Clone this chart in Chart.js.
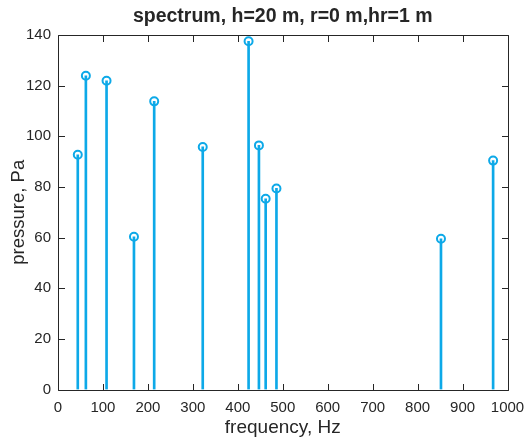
<!DOCTYPE html>
<html>
<head>
<meta charset="utf-8">
<script src="https://cdn.jsdelivr.net/npm/chart.js@4/dist/chart.umd.min.js"></script>
<style>
html,body{margin:0;padding:0;background:#fff;}
#wrap{width:526px;height:439px;position:relative;}
</style>
</head>
<body>
<div id="wrap"><canvas id="c" width="526" height="439"></canvas></div>
<script>
const titleText = 'spectrum, h=20 m, r=0 m,hr=1 m';
const xLabel = 'frequency, Hz';
const yLabel = 'pressure, Pa';
const frequencies = [44, 62, 108, 169, 214, 322, 424, 447, 462, 486, 852, 968];
const pressures = [92.7, 123.9, 121.9, 60.3, 113.8, 95.8, 137.5, 96.4, 75.3, 79.4, 59.5, 90.4];
const xTicks = [0, 100, 200, 300, 400, 500, 600, 700, 800, 900, 1000];
const yTicks = [0, 20, 40, 60, 80, 100, 120, 140];

const stemColor = '#0DA9E8';
const axisColor = '#262626';
const FONT = '"Liberation Sans", Arial, Helvetica, sans-serif';

const points = frequencies.map((f, i) => ({x: f, y: pressures[i]}));

const boxTicks = {
  id: 'boxTicks',
  afterDraw(chart) {
    const {ctx, chartArea: a, scales} = chart;
    const L = Math.round(a.left) + 0.5, R = Math.round(a.right) + 0.5;
    const T = Math.round(a.top) + 0.5, B = Math.round(a.bottom) + 0.5;
    const len = 6.5;
    ctx.save();
    ctx.strokeStyle = axisColor;
    ctx.lineWidth = 1;
    ctx.beginPath();
    ctx.rect(L, T, R - L, B - T);
    scales.x.ticks.forEach(t => {
      const px = Math.round(scales.x.getPixelForValue(t.value)) + 0.5;
      ctx.moveTo(px, B); ctx.lineTo(px, B - len);
      ctx.moveTo(px, T); ctx.lineTo(px, T + len);
    });
    scales.y.ticks.forEach(t => {
      const py = Math.round(scales.y.getPixelForValue(t.value)) + 0.5;
      ctx.moveTo(L, py); ctx.lineTo(L + len, py);
      ctx.moveTo(R, py); ctx.lineTo(R - len, py);
    });
    ctx.stroke();
    ctx.restore();
  }
};

new Chart(document.getElementById('c'), {
  type: 'bar',
  data: {
    datasets: [
      {
        type: 'bar',
        data: points,
        backgroundColor: stemColor,
        borderWidth: 0,
        barThickness: 2,
        order: 2
      },
      {
        type: 'scatter',
        data: points,
        showLine: false,
        pointStyle: 'circle',
        pointRadius: 4,
        pointHoverRadius: 4,
        pointBorderWidth: 2,
        pointBorderColor: stemColor,
        pointBackgroundColor: 'rgba(0,0,0,0)',
        order: 1
      }
    ]
  },
  options: {
    responsive: false,
    animation: false,
    events: [],
    layout: {padding: {left: 0, right: 18.5, top: 0, bottom: 0}},
    plugins: {
      legend: {display: false},
      tooltip: {enabled: false},
      title: {
        display: true,
        fullSize: false,
        text: titleText,
        color: axisColor,
        font: {family: FONT, size: 19.5, weight: 'bold'},
        padding: {top: 5, bottom: 6.6}
      }
    },
    scales: {
      x: {
        type: 'linear',
        min: 0, max: 1000,
        offset: false,
        grid: {display: false, drawTicks: false},
        border: {display: false},
        afterBuildTicks(s) { s.ticks = xTicks.map(v => ({value: v})); },
        afterFit(s) { s.height = 49.5; s.paddingLeft = 0; s.paddingRight = 0; },
        ticks: {
          color: axisColor,
          font: {family: FONT, size: 15},
          padding: 9,
          maxRotation: 0,
          autoSkip: false,
          callback: v => String(v)
        },
        title: {
          display: true,
          text: xLabel,
          color: axisColor,
          font: {family: FONT, size: 19},
          padding: {top: 0, bottom: 0}
        }
      },
      y: {
        type: 'linear',
        min: 0, max: 140,
        grid: {display: false, drawTicks: false},
        border: {display: false},
        afterBuildTicks(s) { s.ticks = yTicks.map(v => ({value: v})); },
        afterFit(s) { s.width = 58; s.paddingTop = 0; s.paddingBottom = 0; },
        ticks: {
          color: axisColor,
          font: {family: FONT, size: 15},
          padding: 7,
          autoSkip: false,
          callback: v => String(v)
        },
        title: {
          display: true,
          text: yLabel,
          color: axisColor,
          font: {family: FONT, size: 18.5},
          padding: {top: 8, bottom: 0}
        }
      }
    }
  },
  plugins: [boxTicks]
});
</script>
</body>
</html>
